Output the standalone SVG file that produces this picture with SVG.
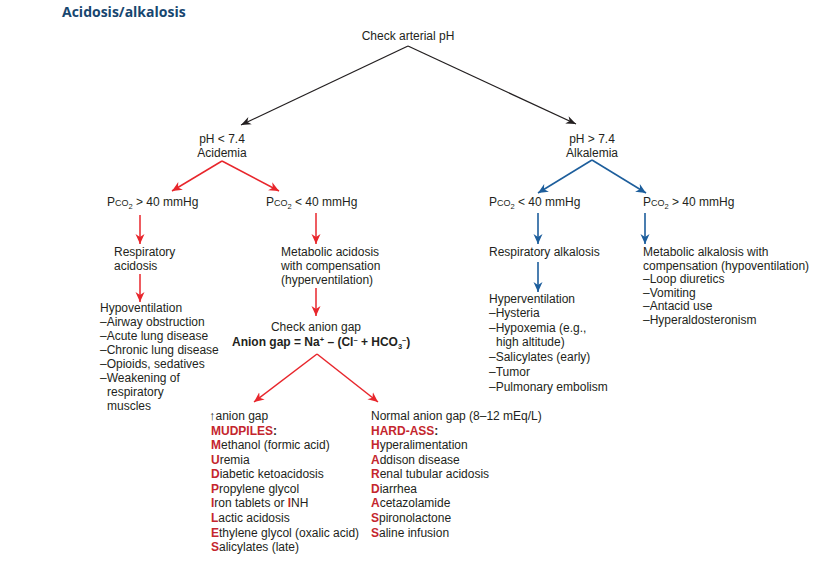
<svg xmlns="http://www.w3.org/2000/svg" width="840" height="562" viewBox="0 0 840 562">
<style>
text{font-family:"Liberation Sans",Arial,sans-serif;font-size:12px;fill:#231f20}
.title{font-family:"Open Sans","Liberation Sans",sans-serif;font-weight:bold;font-size:14px;fill:#17466f}
.c{text-anchor:middle}
.b{font-weight:bold}
.m{fill:#c4262e;font-weight:bold}
.sm{font-size:9px}
.sub{font-size:7.5px}
.up{font-size:13px}
.k{stroke:#231f20;stroke-width:1.3;fill:none}
.r{stroke:#e8262c;stroke-width:1.5;fill:none}
.u{stroke:#1d5e9c;stroke-width:1.6;fill:none}
</style>
<defs>
<marker id="ak" markerUnits="userSpaceOnUse" markerWidth="12" markerHeight="12" refX="10" refY="5" orient="auto"><path d="M0,1 L10,5 L0,9 L3,5 Z" fill="#231f20"/></marker>
<marker id="ar" markerUnits="userSpaceOnUse" markerWidth="12" markerHeight="12" refX="10" refY="5" orient="auto"><path d="M0,0.5 L10,5 L0,9.5 L3,5 Z" fill="#e8262c"/></marker>
<marker id="au" markerUnits="userSpaceOnUse" markerWidth="12" markerHeight="12" refX="10" refY="5" orient="auto"><path d="M0,0.5 L10,5 L0,9.5 L3,5 Z" fill="#1d5e9c"/></marker>
</defs>

<text class="title" x="62" y="17">Acidosis/alkalosis</text>

<g id="connectors">
<path class="k" d="M408,46 L241,125" marker-end="url(#ak)"/>
<path class="k" d="M408,46 L576,124" marker-end="url(#ak)"/>
<path class="r" d="M222,161 L172,191" marker-end="url(#ar)"/>
<path class="r" d="M222,161 L279,191" marker-end="url(#ar)"/>
<path class="r" d="M140,215 L140,244" marker-end="url(#ar)"/>
<path class="r" d="M140,274 L140,302" marker-end="url(#ar)"/>
<path class="r" d="M316,213 L316,244" marker-end="url(#ar)"/>
<path class="r" d="M316,288 L316,316" marker-end="url(#ar)"/>
<path class="r" d="M317,354 L254,402" marker-end="url(#ar)"/>
<path class="r" d="M317,354 L378,402" marker-end="url(#ar)"/>
<path class="u" d="M592,160 L538,193" marker-end="url(#au)"/>
<path class="u" d="M592,160 L646,193" marker-end="url(#au)"/>
<path class="u" d="M538,213 L538,244" marker-end="url(#au)"/>
<path class="u" d="M538,262 L538,292" marker-end="url(#au)"/>
<path class="u" d="M645,213 L645,244" marker-end="url(#au)"/>
</g>

<g id="check-ph"><text class="c" x="408" y="40">Check arterial pH</text></g>

<g id="acidemia"><text class="c" x="222" y="143">pH &lt; 7.4</text><text class="c" x="222" y="157">Acidemia</text></g>

<g id="alkalemia"><text class="c" x="592" y="143">pH &gt; 7.4</text><text class="c" x="592" y="157">Alkalemia</text></g>

<g id="pco2-high-acid"><text x="107" y="206">P<tspan class="sm">CO</tspan><tspan class="sub" dy="3">2</tspan><tspan dy="-3"> &gt; 40 mmHg</tspan></text></g>
<g id="pco2-low-acid"><text x="266" y="206">P<tspan class="sm">CO</tspan><tspan class="sub" dy="3">2</tspan><tspan dy="-3"> &lt; 40 mmHg</tspan></text></g>
<g id="pco2-low-alk"><text x="489" y="206">P<tspan class="sm">CO</tspan><tspan class="sub" dy="3">2</tspan><tspan dy="-3"> &lt; 40 mmHg</tspan></text></g>
<g id="pco2-high-alk"><text x="643" y="206">P<tspan class="sm">CO</tspan><tspan class="sub" dy="3">2</tspan><tspan dy="-3"> &gt; 40 mmHg</tspan></text></g>

<g id="resp-acidosis"><text x="114" y="256">Respiratory</text><text x="114" y="270">acidosis</text></g>

<g id="hypoventilation">
<text x="100" y="312">Hypoventilation</text>
<text x="100" y="326">–Airway obstruction</text>
<text x="100" y="340">–Acute lung disease</text>
<text x="100" y="354">–Chronic lung disease</text>
<text x="100" y="368">–Opioids, sedatives</text>
<text x="100" y="382">–Weakening of</text>
<text x="107" y="396">respiratory</text>
<text x="107" y="410">muscles</text>
</g>

<g id="metabolic-acidosis">
<text x="281" y="256">Metabolic acidosis</text>
<text x="281" y="270">with compensation</text>
<text x="281" y="284">(hyperventilation)</text>
</g>

<g id="anion-gap">
<text class="c" x="316" y="331">Check anion gap</text>
<text class="b" x="232" y="346">Anion gap = Na<tspan class="sub" dy="-4">+</tspan><tspan dy="4"> – (Cl</tspan><tspan class="sub" dy="-4">–</tspan><tspan dy="4"> + HCO</tspan><tspan class="sub" dy="3">3</tspan><tspan class="sub" dy="-7">–</tspan><tspan dy="4">)</tspan></text>
</g>

<g id="mudpiles">
<text x="209" y="420"><tspan class="up">↑</tspan>anion gap</text>
<text x="211" y="435"><tspan class="m">MUDPILES</tspan><tspan class="b">:</tspan></text>
<text x="211" y="449"><tspan class="m">M</tspan>ethanol (formic acid)</text>
<text x="211" y="464"><tspan class="m">U</tspan>remia</text>
<text x="211" y="478"><tspan class="m">D</tspan>iabetic ketoacidosis</text>
<text x="211" y="493"><tspan class="m">P</tspan>ropylene glycol</text>
<text x="211" y="507"><tspan class="m">I</tspan>ron tablets or <tspan class="m">I</tspan>NH</text>
<text x="211" y="522"><tspan class="m">L</tspan>actic acidosis</text>
<text x="211" y="537"><tspan class="m">E</tspan>thylene glycol (oxalic acid)</text>
<text x="211" y="551"><tspan class="m">S</tspan>alicylates (late)</text>
</g>

<g id="hard-ass">
<text x="371" y="420">Normal anion gap (8–12 mEq/L)</text>
<text x="371" y="435"><tspan class="m">HARD-ASS</tspan><tspan class="b">:</tspan></text>
<text x="371" y="449"><tspan class="m">H</tspan>yperalimentation</text>
<text x="371" y="464"><tspan class="m">A</tspan>ddison disease</text>
<text x="371" y="478"><tspan class="m">R</tspan>enal tubular acidosis</text>
<text x="371" y="493"><tspan class="m">D</tspan>iarrhea</text>
<text x="371" y="507"><tspan class="m">A</tspan>cetazolamide</text>
<text x="371" y="522"><tspan class="m">S</tspan>pironolactone</text>
<text x="371" y="537"><tspan class="m">S</tspan>aline infusion</text>
</g>

<g id="resp-alkalosis"><text x="489" y="256">Respiratory alkalosis</text></g>

<g id="hyperventilation">
<text x="489" y="303">Hyperventilation</text>
<text x="489" y="317">–Hysteria</text>
<text x="489" y="332">–Hypoxemia (e.g.,</text>
<text x="496" y="346">high altitude)</text>
<text x="489" y="361">–Salicylates (early)</text>
<text x="489" y="376">–Tumor</text>
<text x="489" y="391">–Pulmonary embolism</text>
</g>

<g id="metabolic-alkalosis">
<text x="643" y="256">Metabolic alkalosis with</text>
<text x="643" y="270">compensation (hypoventilation)</text>
<text x="643" y="283">–Loop diuretics</text>
<text x="643" y="297">–Vomiting</text>
<text x="643" y="310">–Antacid use</text>
<text x="643" y="324">–Hyperaldosteronism</text>
</g>
</svg>
